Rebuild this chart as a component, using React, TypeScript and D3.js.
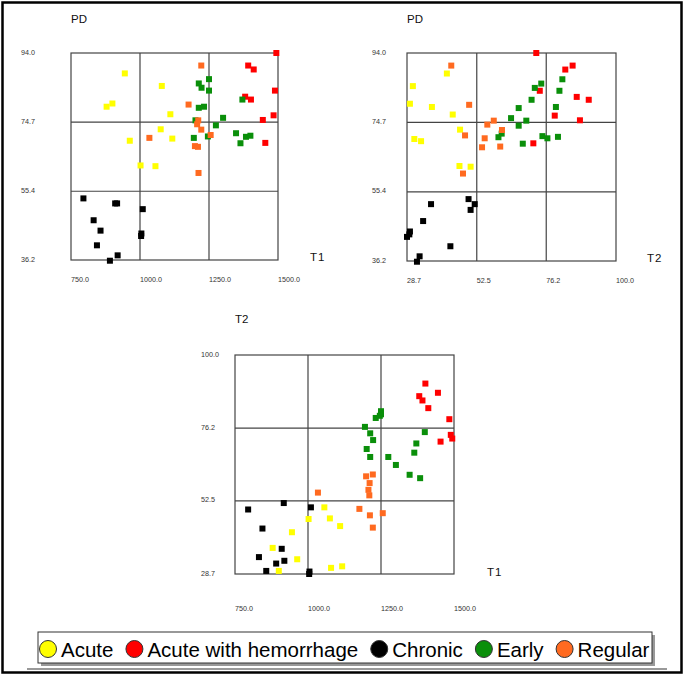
import React, { useRef, useEffect } from 'react';
import * as d3 from 'd3';

// Per-group measurements (each index is one case, shared across the 3 panels)
const acuteT1 = [945, 1079, 900, 879, 1110, 1075, 1117, 963, 1002, 1056];
const acuteT2 = [42.3, 30.7, 29.7, 37.2, 44.3, 46.8, 31.2, 33.5, 46.6, 50.4];
const acutePD = [88.3, 84.8, 79.9, 79.0, 76.9, 72.7, 70.1, 69.5, 62.6, 62.4];

const hemorrhageT1 = [1494, 1392, 1412, 1489, 1381, 1402, 1484, 1445, 1454];
const hemorrhageT2 = [72.8, 85.2, 82.7, 74.0, 86.6, 90.7, 79.1, 87.7, 71.8];
const hemorrhagePD = [94.0, 90.5, 89.4, 83.5, 81.8, 81.0, 76.6, 75.3, 68.9];

const chronicT1 = [795, 917, 910, 1010, 832, 857, 1005, 1004, 844, 919, 891];
const chronicT2 = [49.7, 51.8, 36.9, 50.4, 34.2, 29.7, 29.5, 28.7, 43.5, 33.0, 32.1];
const chronicPD = [53.4, 52.0, 52.0, 50.4, 47.3, 44.4, 43.6, 42.9, 40.3, 37.5, 36.0];

const earlyT1 = [1250, 1213, 1223, 1250, 1371, 1213, 1232, 1301, 1201, 1275, 1348, 1384, 1400, 1364, 1195, 1246];
const earlyT2 = [81.7, 74.5, 72.3, 80.7, 71.2, 66.8, 79.5, 64.2, 69.4, 66.8, 61.0, 59.9, 74.9, 68.2, 76.6, 80.2];
const earlyPD = [86.7, 85.5, 84.3, 83.5, 81.0, 78.7, 79.0, 75.9, 75.2, 73.8, 71.6, 70.6, 70.9, 68.8, 70.3, 70.7];

const regularT1 = [1222, 1176, 1211, 1207, 1222, 1256, 1034, 1199, 1210, 1212];
const regularT2 = [43.8, 49.9, 58.3, 56.1, 61.1, 48.5, 55.2, 60.5, 54.3, 47.8];
const regularPD = [90.5, 79.6, 75.2, 74.1, 72.6, 71.1, 70.3, 68.0, 67.8, 60.5];

const categories = ['Acute', 'Acute with hemorrhage', 'Chronic', 'Early', 'Regular'];
const colors = ['#ffff00', '#ff0000', '#000000', '#0a8f0a', '#ff6a20'];

// Axis ticks (quartile lines of each variable)
const t1Ticks = [750, 1000, 1250, 1500];
const t2Ticks = [28.7, 52.5, 76.2, 100.0];
const pdTicks = [36.2, 55.4, 74.7, 94.0];

const groups = [
  { t1: acuteT1, t2: acuteT2, pd: acutePD },
  { t1: hemorrhageT1, t2: hemorrhageT2, pd: hemorrhagePD },
  { t1: chronicT1, t2: chronicT2, pd: chronicPD },
  { t1: earlyT1, t2: earlyT2, pd: earlyPD },
  { t1: regularT1, t2: regularT2, pd: regularPD },
];

const ticksFor = { t1: t1Ticks, t2: t2Ticks, pd: pdTicks };

const panels = [
  { xv: 't1', yv: 'pd', left: 71, top: 53, w: 207, h: 207, yLabelX: 21, xLabelDy: 21.5, titleDy: -30, nameDx: 32, nameDy: 1, title: 'PD', name: 'T1' },
  { xv: 't2', yv: 'pd', left: 407, top: 53, w: 209, h: 208, yLabelX: 372, xLabelDy: 21.5, titleDy: -30, nameDx: 31, nameDy: 1, title: 'PD', name: 'T2' },
  { xv: 't1', yv: 't2', left: 235, top: 355, w: 219, h: 219, yLabelX: 201, xLabelDy: 36.5, titleDy: -32, nameDx: 33, nameDy: 2, title: 'T2', name: 'T1' },
];

const W = 685;
const H = 677;
const FONT = '"Liberation Sans", Arial, sans-serif';

export default function App() {
  const svgRef = useRef(null);

  useEffect(() => {
    const svg = d3.select(svgRef.current);
    svg.selectAll('*').remove();

    svg.append('rect')
      .attr('width', W).attr('height', H).attr('fill', '#fff');

    // outer frame
    svg.append('rect')
      .attr('x', 2.5).attr('y', 2.5)
      .attr('width', 679).attr('height', 670)
      .attr('fill', 'none').attr('stroke', '#000').attr('stroke-width', 2.5);

    panels.forEach(p => {
      const xt = ticksFor[p.xv];
      const yt = ticksFor[p.yv];
      const x = d3.scaleLinear().domain([xt[0], xt[3]]).range([p.left, p.left + p.w]);
      const y = d3.scaleLinear().domain([yt[0], yt[3]]).range([p.top + p.h, p.top]);
      const g = svg.append('g');

      // quadrant grid + box
      g.append('rect')
        .attr('x', p.left).attr('y', p.top).attr('width', p.w).attr('height', p.h)
        .attr('fill', 'none').attr('stroke', '#444').attr('stroke-width', 1.2);
      g.selectAll('.vgrid').data(xt.slice(1, 3)).enter().append('line')
        .attr('x1', d => x(d)).attr('x2', d => x(d))
        .attr('y1', p.top).attr('y2', p.top + p.h)
        .attr('stroke', '#444').attr('stroke-width', 1.2);
      g.selectAll('.hgrid').data(yt.slice(1, 3)).enter().append('line')
        .attr('y1', d => y(d)).attr('y2', d => y(d))
        .attr('x1', p.left).attr('x2', p.left + p.w)
        .attr('stroke', '#444').attr('stroke-width', 1.2);

      // tick labels
      g.selectAll('.xlab').data(xt).enter().append('text')
        .attr('x', d => x(d)).attr('y', p.top + p.h + p.xLabelDy)
        .attr('font-family', FONT).attr('font-size', 7.2).attr('fill', '#333')
        .text(d => d.toFixed(1));
      g.selectAll('.ylab').data(yt).enter().append('text')
        .attr('x', p.yLabelX).attr('y', d => y(d) + 1.5)
        .attr('font-family', FONT).attr('font-size', 7.2).attr('fill', '#333')
        .text(d => d.toFixed(1));

      // axis names
      g.append('text')
        .attr('x', p.left).attr('y', p.top + p.titleDy)
        .attr('font-family', FONT).attr('font-size', 11.5).attr('fill', '#111')
        .text(p.title);
      g.append('text')
        .attr('x', p.left + p.w + p.nameDx).attr('y', p.top + p.h + p.nameDy)
        .attr('font-family', FONT).attr('font-size', 11.5).attr('fill', '#111')
        .attr('letter-spacing', 1)
        .text(p.name);

      // points
      groups.forEach((grp, gi) => {
        const pts = grp[p.xv].map((v, i) => [v, grp[p.yv][i]]);
        g.selectAll(null).data(pts).enter().append('rect')
          .attr('x', d => x(d[0]) - 3).attr('y', d => y(d[1]) - 3)
          .attr('width', 6).attr('height', 6)
          .attr('fill', colors[gi]);
      });
    });

    // legend
    const lg = svg.append('g');
    lg.append('line')
      .attr('x1', 27).attr('x2', 667).attr('y1', 669).attr('y2', 669)
      .attr('stroke', '#999').attr('stroke-width', 2);
    lg.append('rect')
      .attr('x', 41).attr('y', 635).attr('width', 614).attr('height', 31)
      .attr('fill', '#999');
    lg.append('rect')
      .attr('x', 38).attr('y', 632).attr('width', 614).attr('height', 31)
      .attr('fill', '#fff').attr('stroke', '#333').attr('stroke-width', 1);

    let cx = 48;
    categories.forEach((c, i) => {
      lg.append('circle')
        .attr('cx', cx).attr('cy', 649).attr('r', 8.5)
        .attr('fill', colors[i]).attr('stroke', '#333').attr('stroke-width', 1);
      const t = lg.append('text')
        .attr('x', cx + 13).attr('y', 657)
        .attr('font-family', FONT).attr('font-size', 20.5).attr('fill', '#000')
        .text(c);
      const len = t.node().getComputedTextLength();
      cx = cx + 13 + len + 21;
    });
  }, []);

  return (
    <svg ref={svgRef} width={W} height={H}
      style={{ position: 'absolute', left: 0, top: 0 }} />
  );
}
